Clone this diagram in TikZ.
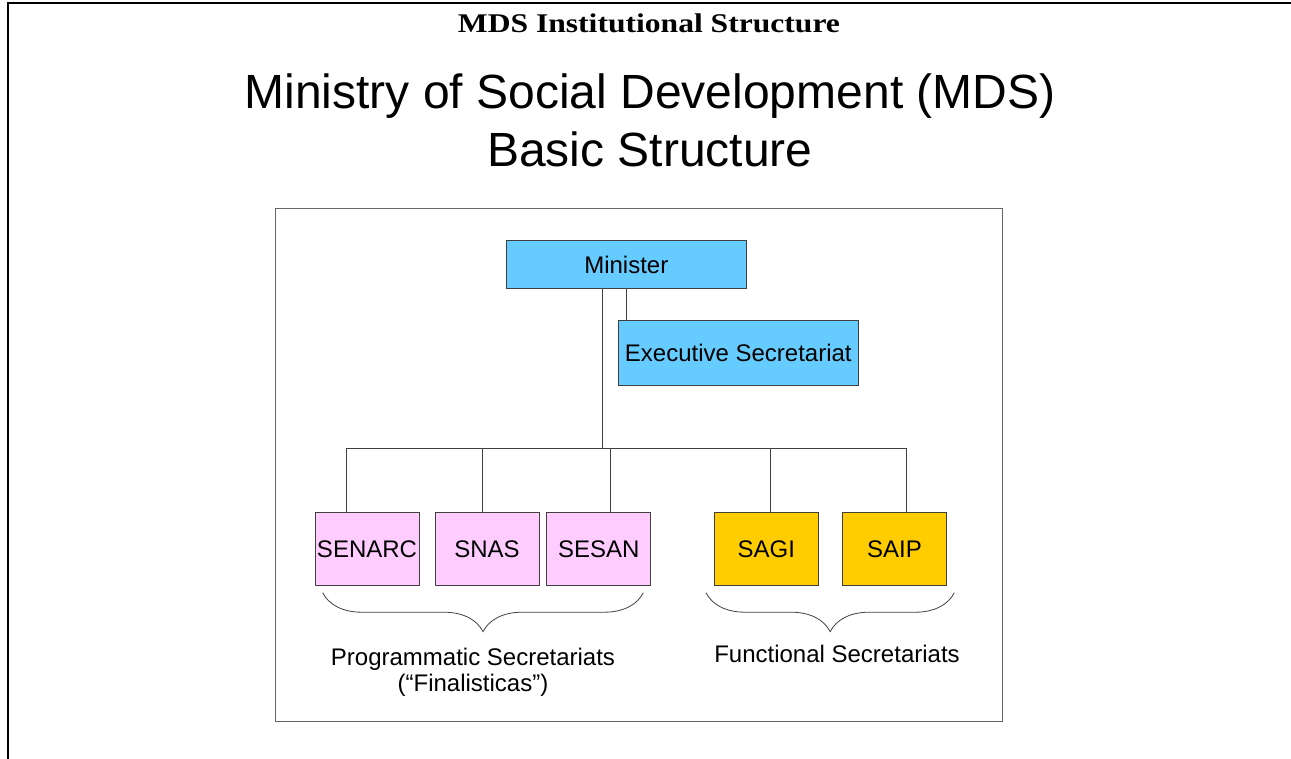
\documentclass[tikz,border=0pt]{standalone}
\usepackage{graphicx}
\usepackage{fontspec}
\setmainfont{Liberation Sans}
\newfontfamily\serifbold{Liberation Serif}
\usetikzlibrary{decorations.pathreplacing}
\definecolor{minblue}{HTML}{66CCFF}
\definecolor{progpink}{HTML}{FFCCFF}
\definecolor{funcgold}{HTML}{FFCC00}

\begin{document}
\begin{tikzpicture} [x=1pt, y=-1pt,
    box/.style={draw=black!75,line width=0.8pt,inner sep=0pt,font=\fontsize{24}{28}\selectfont},
    prog/.style={box,fill=progpink,minimum width=104pt,minimum height=72.3pt},
    func/.style={box,fill=funcgold,minimum width=104pt,minimum height=72.3pt},
    link/.style={draw=black!75,line width=0.8pt},
    curly/.style={draw=black!75,line width=0.8pt,decorate,decoration={brace,mirror,amplitude=39pt}},
    lbl/.style={inner sep=0pt,font=\fontsize{24}{26}\selectfont,align=center}
  ]
  \useasboundingbox (0,0) rectangle (1291,759);
  % slide frame
  \draw[line width=2.2pt] (8,759) -- (8,3) -- (1291,3);
  \node[anchor=base,inner sep=0pt,font=\serifbold\bfseries\fontsize{27}{30}\selectfont] (title) at (649,33)
    {\scalebox{1.17}[1]{MDS Institutional Structure}};
  \node[anchor=north,inner sep=0pt,align=center,font=\fontsize{48}{58.4}\selectfont] (heading) at (650,73.3)
    {Ministry of Social Development (MDS)\\Basic Structure};
  \draw[black!60,line width=0.8pt] (275,208) rectangle (1002,721);

  \node[box,fill=minblue,minimum width=239.3pt,minimum height=47.6pt] (minister) at (626.3,264.5) {Minister};
  \node[box,fill=minblue,minimum width=240pt,minimum height=64.3pt] (exec) at (738.3,352.9) {Executive Secretariat};
  \node[prog] (senarc) at (367,548.9) {SENARC};
  \node[prog] (snas) at (487,548.9) {SNAS};
  \node[prog] (sesan) at (598.7,548.9) {SESAN};
  \node[func] (sagi) at (766.3,548.9) {SAGI};
  \node[func] (saip) at (894.5,548.9) {SAIP};

  %TODO: Linien
  \coordinate (hub) at (602.7,448.3);
  \coordinate (tap) at (626.7,300);
  \draw[link] (minister.south -| hub) -- (hub);
  \draw[link] (minister.south -| tap) -- (exec.north -| tap);
  \foreach \n/\x in {senarc/346.7,snas/482.7,sesan/610.7,sagi/770.7,saip/906.7}{
    \coordinate (b-\n) at (\x,448.3);
    \draw[link] (b-\n) -- (b-\n |- \n.north);
  }
  \draw[link] (b-senarc) -- (b-saip);

  \coordinate (pl) at (322.7,592.7);
  \coordinate (pr) at (643.3,592.7);
  \coordinate (fl) at (706,592.7);
  \coordinate (fr) at (954.3,592.7);
  \draw[curly] (pl) -- (pr);
  \draw[curly] (fl) -- (fr);
  \node[lbl,anchor=north] (proglbl) at (473,648.3) {Programmatic Secretariats\\(“Finalisticas”)};
  \node[lbl,anchor=base] (funclbl) at (837,662.3) {Functional Secretariats};
\end{tikzpicture}
\end{document}
